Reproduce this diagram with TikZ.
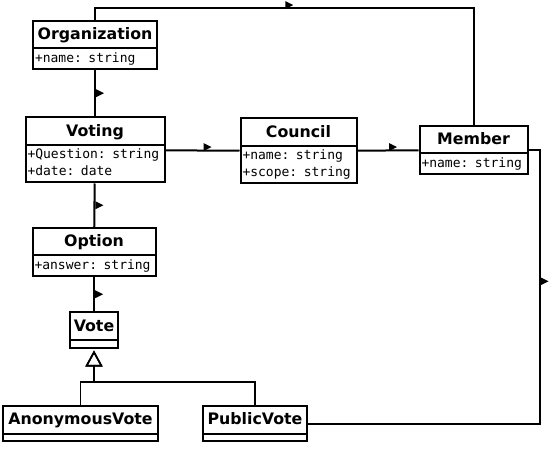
\documentclass[tikz,border=0pt]{standalone}
\usepackage{fontspec}
\setmainfont{DejaVu Sans}
\setmonofont{DejaVu Sans Mono}
\usetikzlibrary{arrows,arrows.meta,shapes,positioning}

\begin{document}
\begin{tikzpicture}[line width=2pt, inner xsep=2pt, inner ysep=0.75pt]
\tikzstyle{umlclass}=[rectangle split, rectangle split parts=2, draw, align=left,
 font=\bfseries\fontsize{15.8}{24}\selectfont]
\tikzstyle{every two node part}=[font=\mdseries\ttfamily\fontsize{13}{17}\selectfont]
\tikzstyle{dirmark}=[isosceles triangle, isosceles triangle stretches, fill, draw=none,
 inner sep=0pt, minimum width=8pt, minimum height=8pt]
\tikzstyle{inherit}=[-{Triangle[open, length=16pt, width=17pt]}, line width=1.6pt, shorten >=2pt]

\useasboundingbox (0,0) rectangle (552pt,-457pt);

\node[umlclass, text width=120pt] (Organization) at (95pt,-45pt)
 {\centering\strut Organization\par\nodepart{two}\strut+name: string};

\node[umlclass, text width=135pt] (Voting) [node distance=105pt, below of=Organization]
 {\centering\strut Voting\par\nodepart{two}\strut+Question: string\\\strut+date: date};

\node[umlclass, text width=112pt] (Council) [node distance=203.5pt, right of=Voting, yshift=-1pt]
 {\centering\strut Council\par\nodepart{two}\strut+name: string\\\strut+scope: string};

\node[umlclass, text width=104pt] (Member) [node distance=175pt, right of=Council, yshift=1pt]
 {\centering\strut Member\par\nodepart{two}\strut+name: string};

\node[umlclass, text width=119pt] (Option) [node distance=102pt, below of=Voting, xshift=-1pt]
 {\centering\strut Option\par\nodepart{two}\strut+answer: string};

\node[umlclass, text width=44pt] (Vote) [node distance=78pt, below of=Option]
 {\centering\strut Vote\par\nodepart{two}\rule{0pt}{4pt}};

%subclasses
\node[umlclass, text width=151pt] (AnonymousVote) [node distance=93.5pt, below of=Vote, xshift=-13.5pt]
 {\centering\strut AnonymousVote\par\nodepart{two}\rule{0pt}{4pt}};

\node[umlclass, text width=100pt] (PublicVote) [node distance=174.5pt, right of=AnonymousVote]
 {\centering\strut PublicVote\par\nodepart{two}\rule{0pt}{4pt}};

%associations
\path (Organization) edge node[dirmark, anchor=west] {} (Voting);
\path (Voting) edge node[dirmark, anchor=south west] {} (Council);
\path (Council) edge node[dirmark, anchor=south west] {} (Member);
\path (Voting) edge node[dirmark, anchor=west] {} (Option);
\path (Option) edge node[dirmark, anchor=west] {} (Vote);

\draw (Organization.north) -- ++(0,11.5pt) -| node[dirmark, pos=0.25, anchor=south west] {} (Member.north);
\draw (Member.east) -- ++(11pt,0) |- node[dirmark, pos=0.24, anchor=west] {} (PublicVote.east);

%generalization
\draw[inherit] (AnonymousVote.north) -- ++(0,23pt) -| (Vote.south);
\draw[inherit] (PublicVote.north) -- ++(0,23pt) -| (Vote.south);

\end{tikzpicture}
\end{document}
